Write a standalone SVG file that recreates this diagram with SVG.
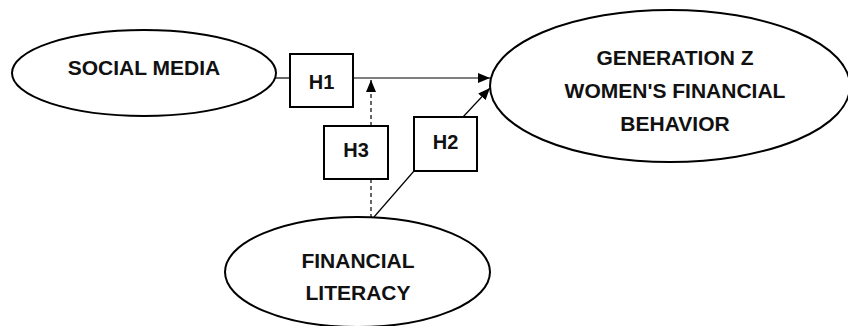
<svg xmlns="http://www.w3.org/2000/svg" width="848" height="326" viewBox="0 0 848 326">
<style>
.node{fill:#fff;stroke:#000;stroke-width:2}
.lbl{font-family:"Liberation Sans",Arial,sans-serif;font-weight:bold;font-size:21px;fill:#111;text-anchor:middle}
.h{font-size:20px}
.c{stroke:#000;stroke-width:1.2;fill:none}
.d{stroke-dasharray:4,3}
</style>
<defs>
<marker id="ah" viewBox="0 0 12 10" refX="12" refY="5" markerWidth="12" markerHeight="10" markerUnits="userSpaceOnUse" orient="auto">
<path d="M0,0 L12,5 L0,10 Z" fill="#000"/>
</marker>
</defs>
<rect width="848" height="326" fill="#fff"/>
<g id="connectors">
<line class="c" x1="275" y1="78" x2="290" y2="78"/>
<line class="c" x1="353" y1="78" x2="490" y2="78" marker-end="url(#ah)"/>
<line class="c d" x1="371" y1="126" x2="371" y2="80" marker-end="url(#ah)"/>
<line class="c d" x1="371" y1="179" x2="371" y2="217"/>
<line class="c" x1="374" y1="217" x2="414" y2="171"/>
<line class="c" x1="463" y1="117" x2="490" y2="88" marker-end="url(#ah)"/>
</g>
<g id="social-media">
<ellipse class="node" cx="144" cy="73" rx="132" ry="43"/>
<text class="lbl" x="144" y="75">SOCIAL MEDIA</text>
</g>
<g id="genz">
<ellipse class="node" cx="670" cy="86" rx="180" ry="76"/>
<text class="lbl" x="675" y="65">GENERATION Z</text>
<text class="lbl" x="675" y="98">WOMEN'S FINANCIAL</text>
<text class="lbl" x="675" y="131">BEHAVIOR</text>
</g>
<g id="financial-literacy">
<ellipse class="node" cx="357.5" cy="272" rx="132.5" ry="55"/>
<text class="lbl" x="358" y="268">FINANCIAL</text>
<text class="lbl" x="358" y="300">LITERACY</text>
</g>
<g id="h1">
<rect class="node" x="290" y="54" width="63" height="53"/>
<text class="lbl h" x="321.5" y="89">H1</text>
</g>
<g id="h3">
<rect class="node" x="324" y="126" width="64" height="53"/>
<text class="lbl h" x="356" y="157">H3</text>
</g>
<g id="h2">
<rect class="node" x="414" y="117" width="63" height="54"/>
<text class="lbl h" x="445.5" y="149">H2</text>
</g>
</svg>
